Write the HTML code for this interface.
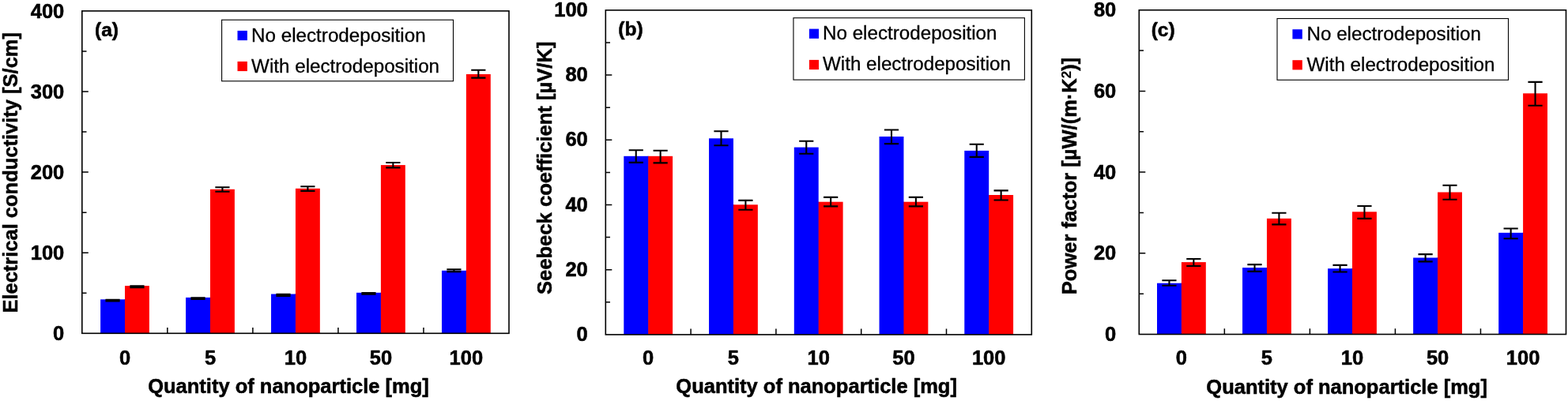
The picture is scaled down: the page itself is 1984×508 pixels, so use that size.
<!DOCTYPE html>
<html lang="en"><head><meta charset="utf-8"><title>Thermoelectric properties</title>
<style>html,body{margin:0;padding:0;background:#fff}body{width:1984px;height:508px;overflow:hidden}svg{display:block}text{font-family:"Liberation Sans",Arial,sans-serif;fill:#000}.b{font-weight:bold;stroke:#000;stroke-width:0.55px;stroke-linejoin:round}.r{stroke:#000;stroke-width:0.3px}</style></head><body>
<svg width="1984" height="508" viewBox="0 0 1984 508">
<rect width="1984" height="508" fill="#fff"/>
<g>
<rect x="127.10" y="379.30" width="30.90" height="43.00" fill="#0000ff"/>
<rect x="157.40" y="379.30" width="1.2" height="43.00" fill="#0000ff"/>
<rect x="158.00" y="362.10" width="30.90" height="60.20" fill="#ff0000"/>
<rect x="235.07" y="376.90" width="30.90" height="45.40" fill="#0000ff"/>
<rect x="265.37" y="376.90" width="1.2" height="45.40" fill="#0000ff"/>
<rect x="265.97" y="239.80" width="30.90" height="182.50" fill="#ff0000"/>
<rect x="343.04" y="372.50" width="30.90" height="49.80" fill="#0000ff"/>
<rect x="373.34" y="372.50" width="1.2" height="49.80" fill="#0000ff"/>
<rect x="373.94" y="238.80" width="30.90" height="183.50" fill="#ff0000"/>
<rect x="451.01" y="370.80" width="30.90" height="51.50" fill="#0000ff"/>
<rect x="481.31" y="370.80" width="1.2" height="51.50" fill="#0000ff"/>
<rect x="481.91" y="209.10" width="30.90" height="213.20" fill="#ff0000"/>
<rect x="558.98" y="342.80" width="30.90" height="79.50" fill="#0000ff"/>
<rect x="589.28" y="342.80" width="1.2" height="79.50" fill="#0000ff"/>
<rect x="589.88" y="94.00" width="30.90" height="328.30" fill="#ff0000"/>
<path d="M133.45 379.90H151.65M133.45 381.40H151.65M142.55 379.90V381.40M164.35 362.20H182.55M164.35 364.10H182.55M173.45 362.20V364.10M241.42 377.20H259.62M241.42 379.00H259.62M250.52 377.20V379.00M272.32 237.30H290.52M272.32 242.70H290.52M281.42 237.30V242.70M349.39 372.80H367.59M349.39 374.90H367.59M358.49 372.80V374.90M380.29 236.20H398.49M380.29 241.90H398.49M389.39 236.20V241.90M457.36 371.10H475.56M457.36 372.80H475.56M466.46 371.10V372.80M488.26 206.00H506.46M488.26 212.40H506.46M497.36 206.00V212.40M565.33 341.40H583.53M565.33 344.20H583.53M574.43 341.40V344.20M596.23 88.70H614.43M596.23 98.60H614.43M605.33 88.70V98.60" stroke="#000" stroke-width="2.10" fill="none"/>
<path d="M103.80 371.25h5.7M103.80 320.20h8.0M103.80 269.15h5.7M103.80 218.10h8.0M103.80 167.05h5.7M103.80 116.00h8.0M103.80 64.95h5.7M211.84 422.30v-7.3M319.88 422.30v-7.3M427.92 422.30v-7.3M535.96 422.30v-7.3" stroke="#000" stroke-width="1.5" fill="none"/>
<rect x="103.80" y="13.90" width="540.20" height="408.40" fill="none" stroke="#000" stroke-width="1.6"/>
<text class="b" transform="translate(81.30 431.30) scale(1.000 1.040)" font-size="25.5" text-anchor="end">0</text>
<text class="b" transform="translate(81.30 329.20) scale(1.000 1.040)" font-size="25.5" text-anchor="end">100</text>
<text class="b" transform="translate(81.30 227.10) scale(1.000 1.040)" font-size="25.5" text-anchor="end">200</text>
<text class="b" transform="translate(81.30 125.00) scale(1.000 1.040)" font-size="25.5" text-anchor="end">300</text>
<text class="b" transform="translate(81.30 22.90) scale(1.000 1.040)" font-size="25.5" text-anchor="end">400</text>
<text class="b" transform="translate(158.00 461.70) scale(1.000 1.040)" font-size="25.5" text-anchor="middle">0</text>
<text class="b" transform="translate(265.97 461.70) scale(1.000 1.040)" font-size="25.5" text-anchor="middle">5</text>
<text class="b" transform="translate(373.94 461.70) scale(1.000 1.040)" font-size="25.5" text-anchor="middle">10</text>
<text class="b" transform="translate(481.91 461.70) scale(1.000 1.040)" font-size="25.5" text-anchor="middle">50</text>
<text class="b" transform="translate(589.88 461.70) scale(1.000 1.040)" font-size="25.5" text-anchor="middle">100</text>
<text class="b" transform="translate(365.00 497.80)" font-size="25.5" text-anchor="middle">Quantity of nanoparticle [mg]</text>
<text class="b" transform="translate(22.20 218.80) rotate(-90) scale(1.000 1.020)" font-size="25.5" text-anchor="middle">Electrical conductivity [S/cm]</text>
<text class="b" transform="translate(120.00 46.10)" font-size="24.6">(a)</text>
<rect x="280.60" y="25.20" width="292.90" height="77.55" fill="#fff" stroke="#000" stroke-width="1.1"/>
<rect x="300.50" y="38.90" width="12.40" height="12.2" fill="#0000ff"/>
<rect x="300.50" y="77.90" width="12.40" height="12.2" fill="#ff0000"/>
<text class="r" transform="translate(318.10 52.80)" font-size="24.2">No electrodeposition</text>
<text class="r" transform="translate(318.10 91.60)" font-size="24.2">With electrodeposition</text>
</g>
<g>
<rect x="789.30" y="197.80" width="30.90" height="226.10" fill="#0000ff"/>
<rect x="819.60" y="197.80" width="1.2" height="226.10" fill="#0000ff"/>
<rect x="820.20" y="197.80" width="30.90" height="226.10" fill="#ff0000"/>
<rect x="897.05" y="175.30" width="30.90" height="248.60" fill="#0000ff"/>
<rect x="927.35" y="259.30" width="1.2" height="164.60" fill="#0000ff"/>
<rect x="927.95" y="259.30" width="30.90" height="164.60" fill="#ff0000"/>
<rect x="1004.80" y="186.60" width="30.90" height="237.30" fill="#0000ff"/>
<rect x="1035.10" y="255.70" width="1.2" height="168.20" fill="#0000ff"/>
<rect x="1035.70" y="255.70" width="30.90" height="168.20" fill="#ff0000"/>
<rect x="1112.55" y="173.00" width="30.90" height="250.90" fill="#0000ff"/>
<rect x="1142.85" y="255.70" width="1.2" height="168.20" fill="#0000ff"/>
<rect x="1143.45" y="255.70" width="30.90" height="168.20" fill="#ff0000"/>
<rect x="1220.30" y="190.90" width="30.90" height="233.00" fill="#0000ff"/>
<rect x="1250.60" y="247.00" width="1.2" height="176.90" fill="#0000ff"/>
<rect x="1251.20" y="247.00" width="30.90" height="176.90" fill="#ff0000"/>
<path d="M795.65 190.20H813.85M795.65 205.90H813.85M804.75 190.20V205.90M826.55 190.75H844.75M826.55 206.35H844.75M835.65 190.75V206.35M903.40 166.30H921.60M903.40 184.30H921.60M912.50 166.30V184.30M934.30 253.90H952.50M934.30 265.80H952.50M943.40 253.90V265.80M1011.15 178.80H1029.35M1011.15 194.80H1029.35M1020.25 178.80V194.80M1042.05 249.90H1060.25M1042.05 261.40H1060.25M1051.15 249.90V261.40M1118.90 164.50H1137.10M1118.90 182.10H1137.10M1128.00 164.50V182.10M1149.80 249.90H1168.00M1149.80 261.40H1168.00M1158.90 249.90V261.40M1226.65 182.70H1244.85M1226.65 198.90H1244.85M1235.75 182.70V198.90M1257.55 241.40H1275.75M1257.55 253.50H1275.75M1266.65 241.40V253.50" stroke="#000" stroke-width="2.10" fill="none"/>
<path d="M766.30 382.80h5.7M766.30 341.70h8.0M766.30 300.60h5.7M766.30 259.50h8.0M766.30 218.40h5.7M766.30 177.30h8.0M766.30 136.20h5.7M766.30 95.10h8.0M766.30 54.00h5.7M874.10 423.90v-7.3M981.90 423.90v-7.3M1089.70 423.90v-7.3M1197.50 423.90v-7.3" stroke="#000" stroke-width="1.5" fill="none"/>
<rect x="766.30" y="12.90" width="539.00" height="411.00" fill="none" stroke="#000" stroke-width="1.6"/>
<text class="b" transform="translate(743.80 431.90) scale(1.000 1.040)" font-size="25.5" text-anchor="end">0</text>
<text class="b" transform="translate(743.80 349.70) scale(1.000 1.040)" font-size="25.5" text-anchor="end">20</text>
<text class="b" transform="translate(743.80 267.50) scale(1.000 1.040)" font-size="25.5" text-anchor="end">40</text>
<text class="b" transform="translate(743.80 185.30) scale(1.000 1.040)" font-size="25.5" text-anchor="end">60</text>
<text class="b" transform="translate(743.80 103.10) scale(1.000 1.040)" font-size="25.5" text-anchor="end">80</text>
<text class="b" transform="translate(743.80 20.90) scale(1.000 1.040)" font-size="25.5" text-anchor="end">100</text>
<text class="b" transform="translate(820.20 462.40) scale(1.000 1.040)" font-size="25.5" text-anchor="middle">0</text>
<text class="b" transform="translate(927.95 462.40) scale(1.000 1.040)" font-size="25.5" text-anchor="middle">5</text>
<text class="b" transform="translate(1035.70 462.40) scale(1.000 1.040)" font-size="25.5" text-anchor="middle">10</text>
<text class="b" transform="translate(1143.45 462.40) scale(1.000 1.040)" font-size="25.5" text-anchor="middle">50</text>
<text class="b" transform="translate(1251.20 462.40) scale(1.000 1.040)" font-size="25.5" text-anchor="middle">100</text>
<text class="b" transform="translate(1033.10 498.20)" font-size="25.5" text-anchor="middle">Quantity of nanoparticle [mg]</text>
<text class="b" transform="translate(698.00 212.80) rotate(-90) scale(1.000 1.020)" font-size="25.6" text-anchor="middle">Seebeck coefficient [µV/K]</text>
<text class="b" transform="translate(782.30 44.50)" font-size="24.6">(b)</text>
<rect x="1003.95" y="22.70" width="292.45" height="78.40" fill="#fff" stroke="#000" stroke-width="1.1"/>
<rect x="1023.90" y="36.60" width="12.10" height="12.2" fill="#0000ff"/>
<rect x="1023.90" y="75.90" width="12.10" height="12.2" fill="#ff0000"/>
<text class="r" transform="translate(1041.00 50.20)" font-size="24.2">No electrodeposition</text>
<text class="r" transform="translate(1041.00 89.40)" font-size="24.2">With electrodeposition</text>
</g>
<g>
<rect x="1464.00" y="358.70" width="30.90" height="64.80" fill="#0000ff"/>
<rect x="1494.30" y="358.70" width="1.2" height="64.80" fill="#0000ff"/>
<rect x="1494.90" y="332.10" width="30.90" height="91.40" fill="#ff0000"/>
<rect x="1572.05" y="339.10" width="30.90" height="84.40" fill="#0000ff"/>
<rect x="1602.35" y="339.10" width="1.2" height="84.40" fill="#0000ff"/>
<rect x="1602.95" y="276.80" width="30.90" height="146.70" fill="#ff0000"/>
<rect x="1680.10" y="340.20" width="30.90" height="83.30" fill="#0000ff"/>
<rect x="1710.40" y="340.20" width="1.2" height="83.30" fill="#0000ff"/>
<rect x="1711.00" y="268.30" width="30.90" height="155.20" fill="#ff0000"/>
<rect x="1788.15" y="326.50" width="30.90" height="97.00" fill="#0000ff"/>
<rect x="1818.45" y="326.50" width="1.2" height="97.00" fill="#0000ff"/>
<rect x="1819.05" y="243.50" width="30.90" height="180.00" fill="#ff0000"/>
<rect x="1896.20" y="294.85" width="30.90" height="128.65" fill="#0000ff"/>
<rect x="1926.50" y="294.85" width="1.2" height="128.65" fill="#0000ff"/>
<rect x="1927.10" y="118.30" width="30.90" height="305.20" fill="#ff0000"/>
<path d="M1470.35 355.20H1488.55M1470.35 361.70H1488.55M1479.45 355.20V361.70M1501.25 328.00H1519.45M1501.25 337.00H1519.45M1510.35 328.00V337.00M1578.40 335.10H1596.60M1578.40 343.90H1596.60M1587.50 335.10V343.90M1609.30 269.70H1627.50M1609.30 284.40H1627.50M1618.40 269.70V284.40M1686.45 335.90H1704.65M1686.45 344.50H1704.65M1695.55 335.90V344.50M1717.35 261.00H1735.55M1717.35 276.90H1735.55M1726.45 261.00V276.90M1794.50 322.10H1812.70M1794.50 331.40H1812.70M1803.60 322.10V331.40M1825.40 234.80H1843.60M1825.40 252.80H1843.60M1834.50 234.80V252.80M1902.55 289.50H1920.75M1902.55 302.20H1920.75M1911.65 289.50V302.20M1933.45 103.90H1951.65M1933.45 133.70H1951.65M1942.55 103.90V133.70" stroke="#000" stroke-width="2.10" fill="none"/>
<path d="M1441.30 372.16h5.7M1441.30 320.81h8.0M1441.30 269.47h5.7M1441.30 218.12h8.0M1441.30 166.78h5.7M1441.30 115.44h8.0M1441.30 64.09h5.7M1549.34 423.50v-7.3M1657.38 423.50v-7.3M1765.42 423.50v-7.3M1873.46 423.50v-7.3" stroke="#000" stroke-width="1.5" fill="none"/>
<rect x="1441.30" y="12.75" width="540.20" height="410.75" fill="none" stroke="#000" stroke-width="1.6"/>
<text class="b" transform="translate(1412.30 431.90) scale(1.000 1.040)" font-size="25.5" text-anchor="end">0</text>
<text class="b" transform="translate(1412.30 329.21) scale(1.000 1.040)" font-size="25.5" text-anchor="end">20</text>
<text class="b" transform="translate(1412.30 226.53) scale(1.000 1.040)" font-size="25.5" text-anchor="end">40</text>
<text class="b" transform="translate(1412.30 123.84) scale(1.000 1.040)" font-size="25.5" text-anchor="end">60</text>
<text class="b" transform="translate(1412.30 21.15) scale(1.000 1.040)" font-size="25.5" text-anchor="end">80</text>
<text class="b" transform="translate(1494.90 462.00) scale(1.000 1.040)" font-size="25.5" text-anchor="middle">0</text>
<text class="b" transform="translate(1602.95 462.00) scale(1.000 1.040)" font-size="25.5" text-anchor="middle">5</text>
<text class="b" transform="translate(1711.00 462.00) scale(1.000 1.040)" font-size="25.5" text-anchor="middle">10</text>
<text class="b" transform="translate(1819.05 462.00) scale(1.000 1.040)" font-size="25.5" text-anchor="middle">50</text>
<text class="b" transform="translate(1927.10 462.00) scale(1.000 1.040)" font-size="25.5" text-anchor="middle">100</text>
<text class="b" transform="translate(1704.10 498.80)" font-size="25.5" text-anchor="middle">Quantity of nanoparticle [mg]</text>
<text class="b" transform="translate(1361.50 223.00) rotate(-90) scale(1.000 1.020)" font-size="25.5" text-anchor="middle">Power factor [µW/(m·K<tspan font-size="17" dy="-6.8" stroke-width="0.2">2</tspan><tspan dy="6.8">)]</tspan></text>
<text class="b" transform="translate(1456.65 46.10)" font-size="24.6">(c)</text>
<rect x="1616.00" y="23.50" width="292.50" height="77.80" fill="#fff" stroke="#000" stroke-width="1.1"/>
<rect x="1635.40" y="37.20" width="12.40" height="12.2" fill="#0000ff"/>
<rect x="1635.40" y="76.20" width="12.40" height="12.2" fill="#ff0000"/>
<text class="r" transform="translate(1653.50 51.10)" font-size="24.2">No electrodeposition</text>
<text class="r" transform="translate(1653.50 89.90)" font-size="24.2">With electrodeposition</text>
</g>
</svg></body></html>
